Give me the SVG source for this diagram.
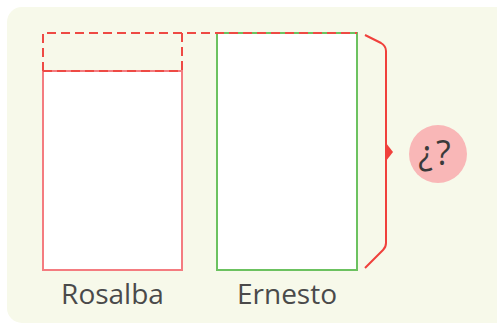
<svg xmlns="http://www.w3.org/2000/svg" width="497" height="325" viewBox="0 0 497 325">
<style>
.lbl{font-family:"Open Sans","Noto Sans",sans-serif;font-size:28px;fill:#4a4a4a;text-anchor:middle}
.dash{fill:none;stroke:#ee4a44;stroke-width:2;stroke-dasharray:9 5}
</style>
<rect x="7" y="7" width="510" height="316" rx="15" fill="#f7f9ea"/>
<g id="rosalba">
<rect x="43" y="71" width="139" height="199" fill="#fff" stroke="#f47c80" stroke-width="2"/>
<text class="lbl" x="112.5" y="304">Rosalba</text>
</g>
<g id="ernesto">
<rect x="217" y="33" width="140" height="237" fill="#fff" stroke="#6cc260" stroke-width="2"/>
<text class="lbl" x="287" y="304">Ernesto</text>
</g>
<g id="missing">
<path class="dash" d="M43 71 V33 H357 M182 33 V71 H43"/>
</g>
<g id="connectors">
<path d="M365 35 L381 43 Q386 46 386 51 V243 Q386 247 383 250 L365 268" fill="none" stroke="#f0413c" stroke-width="2"/>
<path d="M386 143 L393 152 L386 161 Z" fill="#f0413c"/>
</g>
<g id="question">
<circle cx="438" cy="154" r="29" fill="#f9b7b7"/>
<text x="436" y="165" font-family="Open Sans, Noto Sans, sans-serif" font-size="34" fill="#3a3a3a" text-anchor="middle" letter-spacing="3">¿?</text>
</g>
</svg>
